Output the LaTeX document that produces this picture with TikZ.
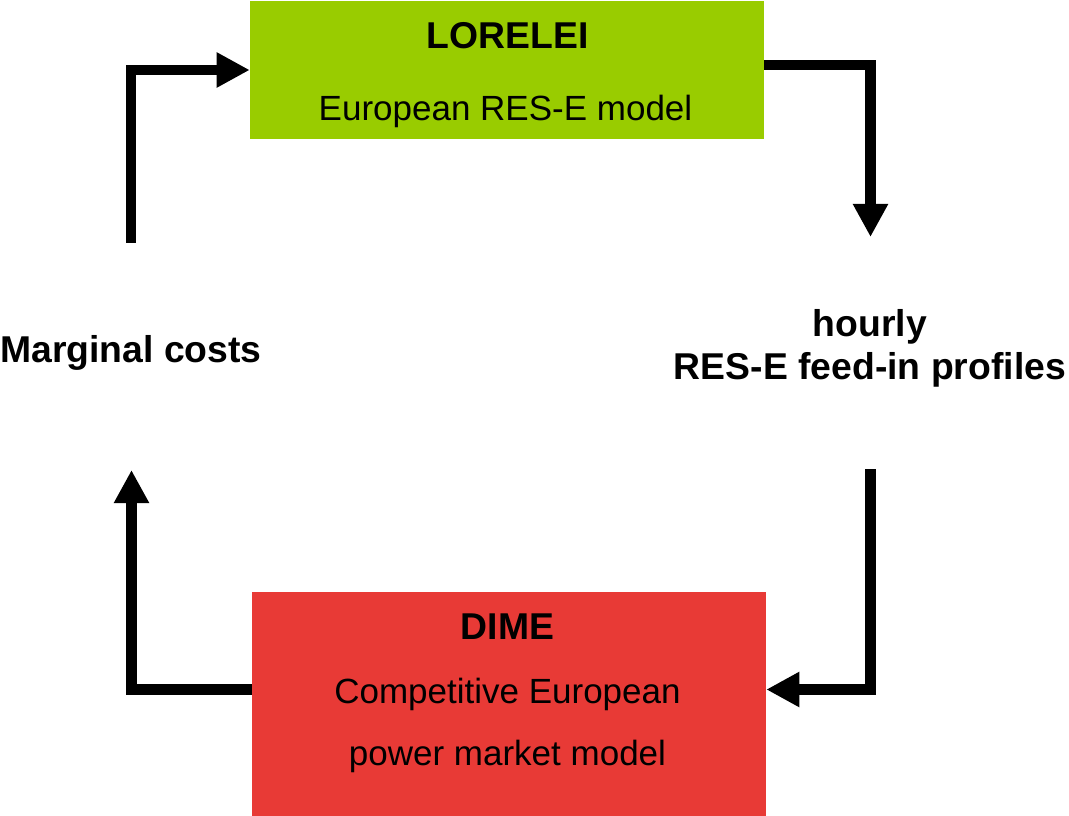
\documentclass[tikz,border=0pt]{standalone}
\usepackage{fontspec}
\setmainfont{Liberation Sans}
\usetikzlibrary{arrows.meta}
\definecolor{limegreen}{HTML}{99CC00}
\definecolor{boxred}{HTML}{E83A36}
\tikzset{
  modelbox/.style={draw=none, rectangle, inner sep=0pt, minimum width=385.5pt},
  titletext/.style={anchor=base, inner sep=0pt, font=\fontsize{28}{34}\selectfont\bfseries},
  bodytext/.style={anchor=base, inner sep=0pt, font=\fontsize{26.25}{32}\selectfont},
  flow/.style={line width=8pt, line join=miter, line cap=butt,
    -{Triangle[length=24.75pt, width=24.75pt]}},
}
\begin{document}
\begin{tikzpicture}[x=0.75pt, y=-0.75pt]
  \useasboundingbox (0,0) rectangle (1069,816);

  % model boxes
  \node[modelbox, fill=limegreen, minimum height=103.5pt] (lorelei) at (507,70) {};
  \node[modelbox, fill=boxred, minimum height=168pt] (dime) at (509,704) {};

  % box texts
  \node[titletext] (lorTitle) at (507.5,49) {LORELEI};
  \node[bodytext]  (lorSub)   at (505.5,121) {European RES-E model};
  \node[titletext] (dimeTitle) at (507.5,639) {DIME};
  \node[bodytext]  (dimeSubA)  at (507.5,703) {Competitive European};
  \node[bodytext]  (dimeSubB)  at (507.5,765) {power market model};

  % side labels
  \node[titletext, anchor=base west] (mc) at (0,362) {Marginal costs};
  \node[titletext] (feedA) at (870,336) {hourly};
  \node[titletext] (feedB) at (870,379) {RES-E feed-in profiles};

  % connector end points
  \coordinate (mcTop)   at (131,243);
  \coordinate (mcBot)   at (131.5,470);
  \coordinate (feedTop) at (870.5,237);
  \coordinate (feedBot) at (870.5,469);

  % cycle of data exchange
  \draw[flow] (mcTop) |- (lorelei.west);
  \draw[flow] ([yshift=3.75pt]lorelei.east) -| (feedTop);
  \draw[flow] (feedBot) |- ([yshift=10.875pt]dime.east);
  \draw[flow] ([yshift=10.875pt]dime.west) -| (mcBot);
\end{tikzpicture}
\end{document}
